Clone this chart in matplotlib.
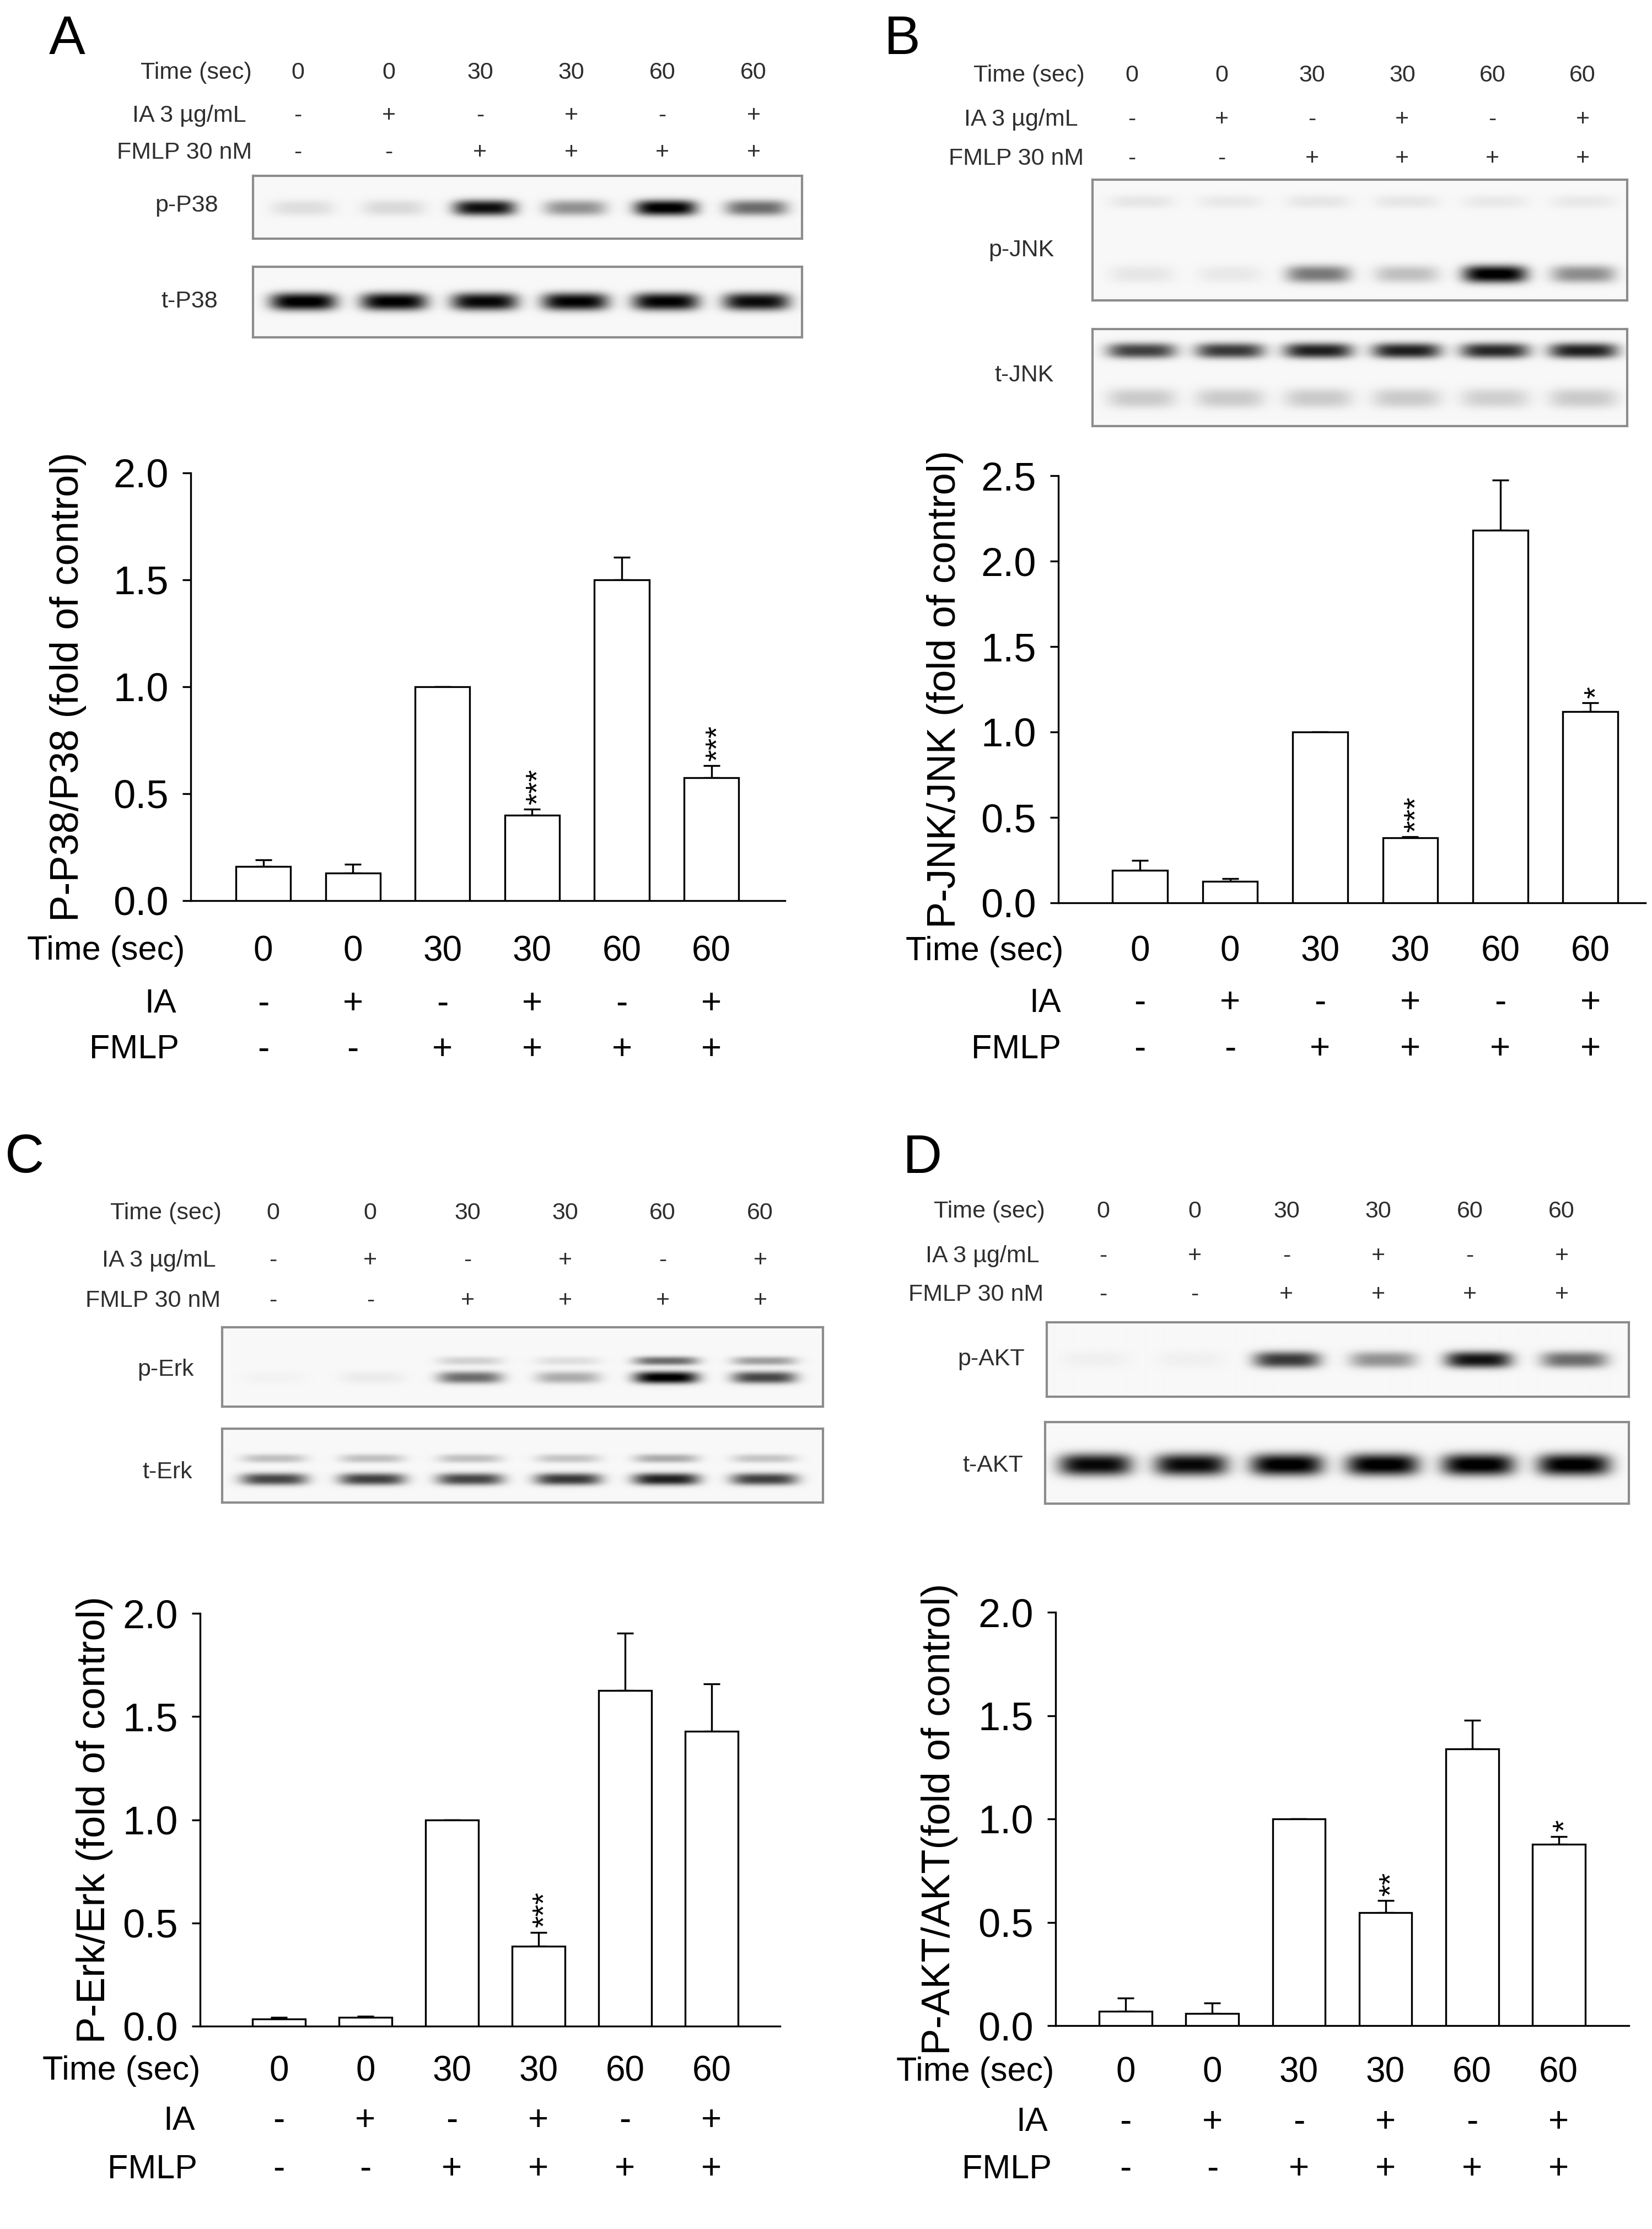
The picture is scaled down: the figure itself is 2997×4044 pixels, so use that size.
import numpy as np
import matplotlib
matplotlib.use("Agg")
import matplotlib.pyplot as plt
from matplotlib.transforms import blended_transform_factory

plt.rcParams["font.family"] = ["Liberation Sans", "DejaVu Sans"]

W, H = 2997, 4044
HDR = "#2e2e2e"

# treatment rows, same for all four panels
time_sec = ["0", "0", "30", "30", "60", "60"]
ia = ["-", "+", "-", "+", "-", "+"]
fmlp = ["-", "-", "+", "+", "+", "+"]

# densitometry, fold of control (mean) and upper SEM
p38_mean = [0.16, 0.13, 1.00, 0.40, 1.50, 0.575]
p38_err = [0.032, 0.039, 0.0, 0.027, 0.106, 0.056]
p38_stars = ["", "", "", "***", "", "***"]

jnk_mean = [0.19, 0.125, 1.00, 0.38, 2.18, 1.12]
jnk_err = [0.06, 0.017, 0.0, 0.007, 0.295, 0.05]
jnk_stars = ["", "", "", "***", "", "*"]

erk_mean = [0.036, 0.042, 1.00, 0.387, 1.627, 1.429]
erk_err = [0.006, 0.005, 0.0, 0.068, 0.278, 0.228]
erk_stars = ["", "", "", "***", "", ""]

akt_mean = [0.070, 0.060, 1.00, 0.546, 1.34, 0.878]
akt_err = [0.063, 0.049, 0.0, 0.059, 0.137, 0.038]
akt_stars = ["", "", "", "**", "", "*"]

# band darkness per lane (0 = none, 1 = saturated)
p38_p_band = [0.10, 0.12, 0.92, 0.40, 1.00, 0.55]
p38_t_band = [1.00, 0.98, 0.95, 0.97, 0.97, 0.93]
jnk_p_band = [0.07, 0.06, 0.50, 0.22, 1.00, 0.42]
jnk_p_upper = [0.07, 0.06, 0.07, 0.07, 0.06, 0.06]
jnk_t_band = [0.72, 0.75, 0.85, 0.85, 0.82, 0.85]
jnk_t_lower = [0.18, 0.18, 0.18, 0.18, 0.16, 0.18]
erk_p_band = [0.02, 0.05, 0.55, 0.30, 1.00, 0.70]
erk_p_upper = [0.0, 0.0, 0.15, 0.10, 0.55, 0.35]
erk_t_band = [0.70, 0.72, 0.70, 0.75, 0.85, 0.72]
erk_t_upper = [0.22, 0.22, 0.22, 0.20, 0.30, 0.20]
akt_p_band = [0.03, 0.03, 0.75, 0.40, 0.90, 0.55]
akt_t_band = [0.95, 0.95, 1.00, 1.00, 1.00, 1.00]


def px_rect(x0, y0, x1, y1):
    return [x0 / W, 1 - y1 / H, (x1 - x0) / W, (y1 - y0) / H]


def fx(x):
    return x / W


def fy(y):
    return 1 - y / H


def draw_header(fig, lanes, rows_y, right_x):
    labels = ["Time (sec)", "IA 3 µg/mL", "FMLP 30 nM"]
    for row, lab, yy, rx in zip([time_sec, ia, fmlp], labels, rows_y, right_x):
        fig.text(fx(rx), fy(yy), lab, ha="right", va="center", fontsize=31, color=HDR)
        for xx, s in zip(lanes, row):
            fig.text(fx(xx), fy(yy), s, ha="center", va="center", fontsize=31, color=HDR)


def draw_blot(fig, box, lanes, bands, label, label_xy):
    x0, y0, x1, y1 = box
    w, h = x1 - x0, y1 - y0
    ax = fig.add_axes(px_rect(*box))
    yy, xx = np.mgrid[0:h, 0:w]
    img = np.full((h, w), 0.03)
    for yc, sy, hw, inten in bands:
        for lx, I in zip(lanes, inten):
            img += I * np.exp(-(np.abs(yy - yc * h) / sy) ** 2.5) \
                * np.exp(-(np.abs(xx - (lx - x0)) / hw) ** 4)
    img = np.clip(img, 0, 1)
    ax.imshow(img, cmap="gray_r", vmin=0, vmax=1, extent=(0, w, h, 0),
              aspect="auto", interpolation="bilinear")
    ax.set_xlim(0, w)
    ax.set_ylim(h, 0)
    ax.set_xticks([])
    ax.set_yticks([])
    for sp in ax.spines.values():
        sp.set_color("#8c8c8c")
        sp.set_linewidth(3)
    fig.text(fx(label_xy[0]), fy(label_xy[1]), label, ha="center", va="center",
             fontsize=31, color=HDR)


def draw_chart(fig, rect, xlim, ymax, mean, err, stars, ylabel, ylabel_x, rows_y, right_x):
    ax = fig.add_axes(px_rect(*rect))
    x = np.arange(len(mean))
    ax.errorbar(x, mean, yerr=[np.zeros(len(err)), err], fmt="none", ecolor="black",
                elinewidth=2.4, capsize=11, capthick=2.4, zorder=2)
    ax.bar(x, mean, 0.61, color="white", edgecolor="black", linewidth=2.4, zorder=3)
    for xi, m, e, s in zip(x, mean, err, stars):
        if s:
            ax.annotate(s, (xi, m + e), xytext=(9, 6), textcoords="offset points",
                        rotation=90, ha="center", va="bottom", fontsize=40)
    ax.set_xlim(*xlim)
    ax.set_ylim(0, ymax)
    ax.set_yticks(np.arange(0, ymax + 0.01, 0.5))
    ax.set_yticklabels(["%.1f" % v for v in np.arange(0, ymax + 0.01, 0.5)])
    ax.set_xticks([])
    for side in ["top", "right"]:
        ax.spines[side].set_visible(False)
    for side in ["left", "bottom"]:
        ax.spines[side].set_linewidth(2.4)
    ax.tick_params(axis="y", direction="out", length=11, width=2.4, pad=18, labelsize=52)
    ax.patch.set_alpha(0)

    x0, y0, x1, y1 = rect
    fig.text(fx(ylabel_x), fy((y0 + y1) / 2), ylabel, rotation=90, ha="center",
             va="center", fontsize=52)

    trans = blended_transform_factory(ax.transData, fig.transFigure)
    labels = ["Time (sec)", "IA", "FMLP"]
    for row, lab, yy, rx in zip([time_sec, ia, fmlp], labels, rows_y, right_x):
        fig.text(fx(rx), fy(yy), lab, ha="right", va="center", fontsize=44)
        for xi, s in zip(x, row):
            ax.text(xi, fy(yy), s, transform=trans, ha="center", va="center", fontsize=46)


fig = plt.figure(figsize=(W / 100, H / 100), dpi=100)

# ---- A : P38
fig.text(fx(122), fy(72), "A", ha="center", va="center", fontsize=71)
draw_header(fig, np.linspace(540, 1367, 6), [132, 210, 277], [457, 447, 457])
lanes_a = np.linspace(550, 1372, 6)
draw_blot(fig, (459, 319, 1455, 433), lanes_a, [(0.51, 14, 56, p38_p_band)], "p-P38", (339, 373))
draw_blot(fig, (459, 484, 1455, 612), lanes_a, [(0.49, 16, 60, p38_t_band)], "t-P38", (344, 547))
draw_chart(fig, (346, 858, 1424, 1634), (-0.81, 5.82), 2.0, p38_mean, p38_err, p38_stars,
           "P-P38/P38 (fold of control)", 124, [1726, 1822, 1905], [335, 320, 325])

# ---- B : JNK
fig.text(fx(1637), fy(72), "B", ha="center", va="center", fontsize=71)
draw_header(fig, np.linspace(2053, 2871, 6), [137, 217, 288], [1968, 1956, 1966])
lanes_b = np.linspace(2071, 2872, 6)
draw_blot(fig, (1982, 326, 2952, 545), lanes_b,
          [(0.18, 12, 58, jnk_p_upper), (0.78, 16, 58, jnk_p_band)], "p-JNK", (1853, 454))
draw_blot(fig, (1982, 597, 2952, 773), lanes_b,
          [(0.22, 14, 62, jnk_t_band), (0.71, 18, 62, jnk_t_lower)], "t-JNK", (1858, 681))
draw_chart(fig, (1920, 863, 2985, 1638), (-0.906, 5.61), 2.5, jnk_mean, jnk_err, jnk_stars,
           "P-JNK/JNK (fold of control)", 1715, [1727, 1820, 1904], [1929, 1925, 1925])

# ---- C : Erk
fig.text(fx(45), fy(2102), "C", ha="center", va="center", fontsize=71)
draw_header(fig, np.linspace(495, 1379, 6), [2201, 2287, 2360], [402, 392, 400])
lanes_c = np.linspace(497, 1386, 6)
draw_blot(fig, (403, 2408, 1493, 2552), lanes_c,
          [(0.42, 8, 58, erk_p_upper), (0.63, 11, 58, erk_p_band)], "p-Erk", (301, 2485))
draw_blot(fig, (403, 2592, 1493, 2726), lanes_c,
          [(0.40, 8, 58, erk_t_upper), (0.68, 11, 60, erk_t_band)], "t-Erk", (304, 2671))
draw_chart(fig, (363, 2927, 1415, 3676), (-0.91, 5.79), 2.0, erk_mean, erk_err, erk_stars,
           "P-Erk/Erk (fold of control)", 172, [3758, 3848, 3936], [363, 354, 358])

# ---- D : AKT
fig.text(fx(1674), fy(2103), "D", ha="center", va="center", fontsize=71)
draw_header(fig, np.linspace(2001, 2833, 6), [2198, 2279, 2349], [1896, 1886, 1893])
lanes_d = np.linspace(1987, 2855, 6)
draw_blot(fig, (1899, 2399, 2955, 2534), lanes_d, [(0.50, 15, 60, akt_p_band)], "p-AKT", (1798, 2466))
draw_blot(fig, (1896, 2580, 2955, 2728), lanes_d, [(0.52, 20, 66, akt_t_band)], "t-AKT", (1801, 2659))
draw_chart(fig, (1915, 2925, 2955, 3675), (-0.81, 5.81), 2.0, akt_mean, akt_err, akt_stars,
           "P-AKT/AKT(fold of control)", 1705, [3760, 3851, 3936], [1912, 1901, 1908])

fig.savefig("out.png", dpi=100, facecolor="white")
